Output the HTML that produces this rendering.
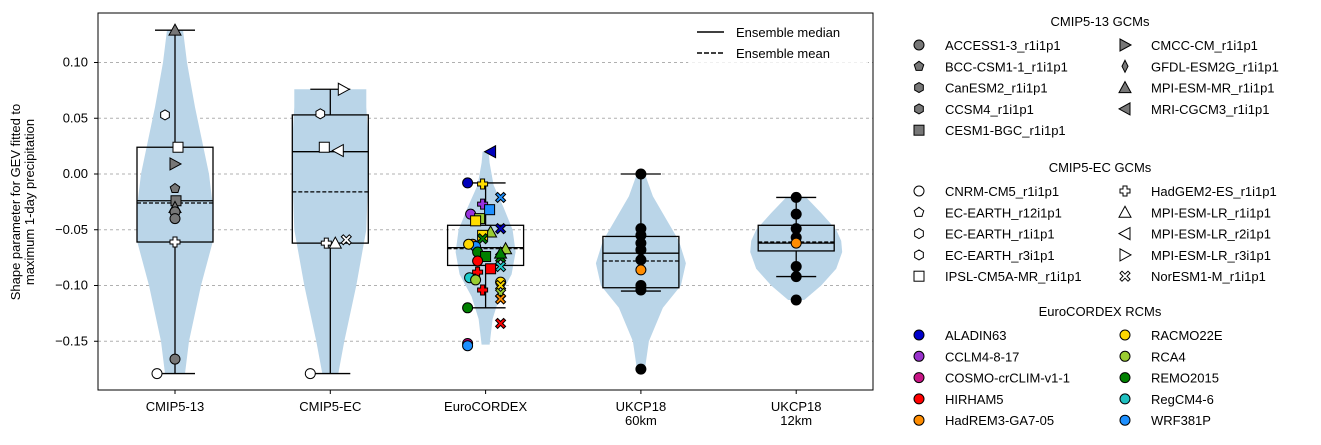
<!DOCTYPE html>
<html><head><meta charset="utf-8"><style>
body{margin:0;background:#fff;font-family:"Liberation Sans",sans-serif}
svg text{font-family:"Liberation Sans",sans-serif;font-size:13px;fill:#000}
</style></head><body>
<svg id="c" width="1321" height="440" xmlns="http://www.w3.org/2000/svg"></svg>
<script>
const categories=["CMIP5-13","CMIP5-EC","EuroCORDEX","UKCP18\n60km","UKCP18\n12km"];
const yTicks=[0.10,0.05,0.00,-0.05,-0.10,-0.15];
const q1=[-0.061,-0.062,-0.082,-0.102,-0.069];
const q3=[0.024,0.053,-0.046,-0.056,-0.046];
const medians=[-0.024,0.020,-0.066,-0.071,-0.062];
const means=[-0.026,-0.016,-0.067,-0.078,-0.061];
const whiskLo=[-0.179,-0.179,-0.120,-0.105,-0.092];
const whiskHi=[0.129,0.076,-0.008,0.000,-0.021];
const violinVals=[
 [-0.179,-0.15,-0.10,-0.06,-0.03,0.0,0.03,0.06,0.10,0.129],
 [-0.179,-0.15,-0.10,-0.05,0.0,0.03,0.06,0.076],
 [-0.153,-0.13,-0.11,-0.09,-0.07,-0.05,-0.03,-0.01,0.01,0.02],
 [-0.175,-0.15,-0.12,-0.10,-0.08,-0.06,-0.04,-0.02,0.0],
 [-0.113,-0.10,-0.085,-0.07,-0.06,-0.05,-0.035,-0.021]];
const violinW=[
 [10,14,26,38,38,34,27,20,12,8],
 [8,14,26,36,38,38,36,36],
 [4,7,14,26,30,27,18,8,4,3],
 [4,8,22,40,45,38,25,12,4],
 [8,25,40,46,45,40,25,10]];
// points: group, value, x-offset, marker, fill
const ptGroup=[0,0,0,0,0,0,0,0,0,0,0,0, 1,1,1,1,1,1,1,1,
 2,2,2,2,2,2,2,2,2,2,2,2,2,2,2,2,2,2,2,2,2,2,2,2,2,2,2,2,2,2,2,2,2,2,2,2,
 3,3,3,3,3,3,3,3,3,3, 4,4,4,4,4,4,4,4];
const ptVal=[0.129,0.053,0.024,0.009,-0.013,-0.024,-0.030,-0.034,-0.040,-0.061,-0.166,-0.179,
 0.076,0.054,0.024,0.021,-0.062,-0.062,-0.059,-0.179,
 0.020,-0.008,-0.009,-0.021,-0.027,-0.032,-0.036,-0.040,-0.042,-0.049,-0.052,-0.055,-0.058,-0.063,-0.065,-0.067,-0.070,-0.075,-0.074,-0.078,-0.085,-0.083,-0.088,-0.093,-0.095,-0.097,-0.100,-0.104,-0.107,-0.112,-0.120,-0.134,-0.152,-0.154,-0.063,-0.071,
 0.000,-0.049,-0.055,-0.062,-0.068,-0.077,-0.086,-0.100,-0.104,-0.175,
 -0.021,-0.036,-0.049,-0.057,-0.062,-0.083,-0.092,-0.113];
const ptDx=[0,-10,3,0,0,1,0,0,0,0,0,-18,
 13,-10,-6,8,-4,5,16,-20,
 5,-18,-3,15,-3,4,-15,-6,-10,15,5,-3,-3,-13,-10,20,-8,15,0,-8,5,15,-8,-16,-10,15,15,-3,15,15,-18,15,-18,-18,-17,15,
 0,0,0,0,0,0,0,0,0,0, 0,0,0,0,0,0,0,0];
const ptMarker=["^","h","s",">","p","s","^","o","o","P","o","o",
 ">","h","s","<","P","^","X","o",
 "<","o","P","X","P","s","o","s","s","X","^","s","X","o","o","^","o","X","s","o","s","X","P","o","o","o","X","P","X","X","o","X","o","o","o","^",
 "o","o","o","o","o","o","o","o","o","o","o","o","o","o","o","o","o","o"];
const ptFill=["#777","#fff","#fff","#777","#777","#777","#777","#777","#777","#fff","#777","#fff",
 "#fff","#fff","#fff","#fff","#fff","#fff","#fff","#fff",
 "#00b","#00b","#fd0","#1e90ff","#9933dd","#1e90ff","#9933dd","#9acd32","#fd0","#00b","#9acd32","#fd0","#008000","#ff8c00","#1e90ff","#9acd32","#008000","#008000","#008000","#ff0000","#ff0000","#1ccccc","#ff0000","#1ccccc","#9acd32","#ffd700","#fd0","#ff0000","#9acd32","#ff8c00","#008000","#ff0000","#c0006f","#1e90ff","#ffd700","#008000",
 "#000","#000","#000","#000","#000","#000","#ff8c00","#000","#000","#000",
 "#000","#000","#000","#000","#ff8c00","#000","#000","#000"];
const NS="http://www.w3.org/2000/svg",svg=document.getElementById("c");
const X0=98,X1=873,Y0=13,Y1=390;
const xPos=i=>175+i*155.3;
const yPos=v=>174-v*1115;
function el(t,a,p){const e=document.createElementNS(NS,t);for(const k in a)e.setAttribute(k,a[k]);(p||svg).appendChild(e);return e;}
function marker(m,x,y,fill,s){s=s||5;let e;
 if(m==="o")e=el("circle",{cx:x,cy:y,r:s});
 else if(m==="s")e=el("rect",{x:x-s,y:y-s,width:2*s,height:2*s});
 else{let pts;
  if(m==="^")pts=[[0,-s-1],[s+1,s],[-s-1,s]];
  else if(m===">")pts=[[s+1,0],[-s,-s-1],[-s,s+1]];
  else if(m==="<")pts=[[-s-1,0],[s,-s-1],[s,s+1]];
  else if(m==="p")pts=[0,1,2,3,4].map(k=>[s*Math.sin(k*1.2566),-s*Math.cos(k*1.2566)]);
  else if(m==="h")pts=[0,1,2,3,4,5].map(k=>[s*Math.sin(k*1.0472),-s*Math.cos(k*1.0472)]);
  else if(m==="d")pts=[[0,-s-1],[s*0.6,0],[0,s+1],[-s*0.6,0]];
  else if(m==="P"){const a=s/2.5;pts=[[-a,-s],[a,-s],[a,-a],[s,-a],[s,a],[a,a],[a,s],[-a,s],[-a,a],[-s,a],[-s,-a],[-a,-a]];}
  else if(m==="X"){const a=s/2.5;pts=[[0,-a],[a*1.5,-s],[s,-a*1.5],[a,0],[s,a*1.5],[a*1.5,s],[0,a],[-a*1.5,s],[-s,a*1.5],[-a,0],[-s,-a*1.5],[-a*1.5,-s]];}
  e=el("polygon",{points:pts.map(p=>(x+p[0])+","+(y+p[1])).join(" ")});}
 e.setAttribute("fill",fill);e.setAttribute("stroke","#000");e.setAttribute("stroke-width","1");return e;}
// grid & ticks
yTicks.forEach(v=>{const y=yPos(v);
 const g=el("line",{x1:X0,x2:X1,y1:y,y2:y,stroke:"#b0b0b0","stroke-dasharray":"3,3"});
 
 
 el("line",{x1:X0-4,x2:X0,y1:y,y2:y,stroke:"#000"});
 const t=el("text",{x:88,y:y+4,"text-anchor":"end"});t.textContent=v.toFixed(2).replace("-","−");
 
 });
// violins
categories.forEach((c,i)=>{const cx=xPos(i);const vv=violinVals[i],ww=violinW[i];
 let d="M"+vv.map((v,k)=>(cx+ww[k])+","+yPos(v)).join(" L");
 d+=" L"+vv.slice().reverse().map((v,k)=>(cx-ww[vv.length-1-k])+","+yPos(v)).join(" L")+"Z";
 const p=el("path",{d:d,fill:"#bad5e8"});
 
 
 el("line",{x1:cx,x2:cx,y1:yPos(whiskHi[i]),y2:yPos(q3[i]),stroke:"#000","stroke-width":1.3});
 el("line",{x1:cx,x2:cx,y1:yPos(q1[i]),y2:yPos(whiskLo[i]),stroke:"#000","stroke-width":1.3});
 [whiskHi[i],whiskLo[i]].forEach(v=>el("line",{x1:cx-20,x2:cx+20,y1:yPos(v),y2:yPos(v),stroke:"#000","stroke-width":1.3}));
 const b=el("rect",{x:cx-38,y:yPos(q3[i]),width:76,height:yPos(q1[i])-yPos(q3[i]),fill:"none",stroke:"#000","stroke-width":1.3});
 
 
 el("line",{x1:cx-38,x2:cx+38,y1:yPos(medians[i]),y2:yPos(medians[i]),stroke:"#000","stroke-width":1.3});
 el("line",{x1:cx-38,x2:cx+38,y1:yPos(means[i]),y2:yPos(means[i]),stroke:"#000","stroke-width":1.2,"stroke-dasharray":"4,2"});
 el("line",{x1:cx,x2:cx,y1:Y1,y2:Y1+4,stroke:"#000"});
 categories[i].split("\n").forEach((s,k)=>{const t=el("text",{x:cx,y:411+k*14,"text-anchor":"middle"});t.textContent=s;
  
  });
});
// points
ptVal.forEach((v,k)=>{const m=marker(ptMarker[k],xPos(ptGroup[k])+ptDx[k],yPos(v),ptFill[k],5);
 
 });
// frame
el("rect",{x:X0,y:Y0,width:X1-X0,height:Y1-Y0,fill:"none",stroke:"#000"});
// y label
[["Shape parameter for GEV fitted to",20],["maximum 1-day precipitation",34]].forEach(a=>{
 const t=el("text",{x:0,y:0,"text-anchor":"middle",transform:"translate("+a[1]+",202) rotate(-90)"});t.textContent=a[0];
 
 });
// in-plot legend
el("rect",{x:688,y:20,width:180,height:44,fill:"#fff",opacity:0.8});
el("line",{x1:697,x2:724,y1:32,y2:32,stroke:"#000","stroke-width":1.5});
el("line",{x1:697,x2:724,y1:53,y2:53,stroke:"#000","stroke-width":1.5,"stroke-dasharray":"5,2"});
[["Ensemble median",37],["Ensemble mean",58]].forEach(a=>{const t=el("text",{x:736,y:a[1]});t.textContent=a[0];
 
 });
// right legend
const legTitles=["CMIP5-13 GCMs","CMIP5-EC GCMs","EuroCORDEX RCMs"];
const legTitleY=[26,172,316];
const legNames=[
 ["ACCESS1-3_r1i1p1","BCC-CSM1-1_r1i1p1","CanESM2_r1i1p1","CCSM4_r1i1p1","CESM1-BGC_r1i1p1","CMCC-CM_r1i1p1","GFDL-ESM2G_r1i1p1","MPI-ESM-MR_r1i1p1","MRI-CGCM3_r1i1p1"],
 ["CNRM-CM5_r1i1p1","EC-EARTH_r12i1p1","EC-EARTH_r1i1p1","EC-EARTH_r3i1p1","IPSL-CM5A-MR_r1i1p1","HadGEM2-ES_r1i1p1","MPI-ESM-LR_r1i1p1","MPI-ESM-LR_r2i1p1","MPI-ESM-LR_r3i1p1","NorESM1-M_r1i1p1"],
 ["ALADIN63","CCLM4-8-17","COSMO-crCLIM-v1-1","HIRHAM5","HadREM3-GA7-05","RACMO22E","RCA4","REMO2015","RegCM4-6","WRF381P"]];
const legMarkers=[["o","p","h","h","s",">","d","^","<"],["o","p","h","h","s","P","^","<",">","X"],["o","o","o","o","o","o","o","o","o","o"]];
const legFills=[["#777","#777","#777","#777","#777","#777","#777","#777","#777"],["#fff","#fff","#fff","#fff","#fff","#fff","#fff","#fff","#fff","#fff"],
 ["#0000cc","#9932cc","#c71585","#ff0000","#ff8c00","#ffd700","#9acd32","#008000","#20c0c0","#1e90ff"]];
legTitles.forEach((tt,g)=>{const t=el("text",{x:1100,y:legTitleY[g],"text-anchor":"middle"});t.textContent=tt;
 
 
 legNames[g].forEach((n,k)=>{const col=k<5?0:1,row=k%5;const x=919+col*206,y=legTitleY[g]+19+row*21.3;
  marker(legMarkers[g][k],x,y,legFills[g][k],5);
  const e=el("text",{x:x+26,y:y+5});e.textContent=n;
  
  });});
</script>
</body></html>
